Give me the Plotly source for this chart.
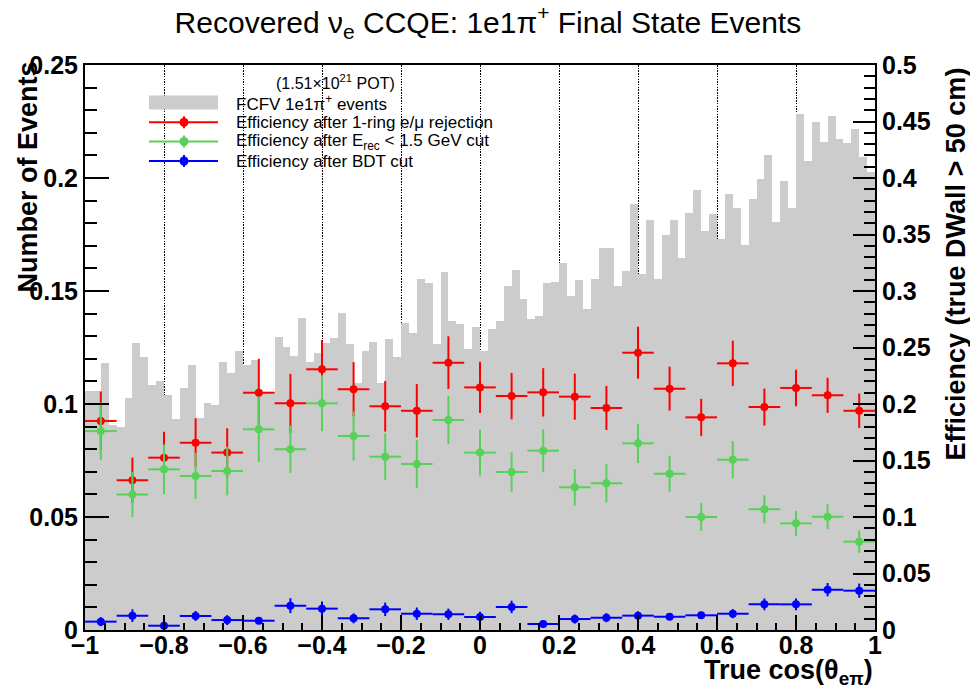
import numpy as np
import plotly.graph_objects as go

# ---------------- data ----------------
hist_edges_lo = -1.0
hist_bin_width = 0.02
hist_counts = [
    0.1058, 0.1058, 0.1180, 0.0905, 0.0900, 0.1028, 0.1269, 0.1209, 0.1084, 0.1102,
    0.1040, 0.0932, 0.1072, 0.1173, 0.0939, 0.1006, 0.0996, 0.1184, 0.1139, 0.1236,
    0.1173, 0.1195, 0.1047, 0.1047, 0.1295, 0.1254, 0.1214, 0.1379, 0.1187, 0.1224,
    0.1270, 0.1294, 0.1404, 0.1265, 0.1091, 0.1236, 0.1273, 0.1091, 0.1286, 0.1210,
    0.1357, 0.1316, 0.1553, 0.1534, 0.1264, 0.1585, 0.1369, 0.1353, 0.1242, 0.1339,
    0.1236, 0.1333, 0.1367, 0.1522, 0.1593, 0.1465, 0.1378, 0.1388, 0.1534, 0.1538,
    0.1622, 0.1476, 0.1549, 0.1420, 0.1553, 0.1692, 0.1692, 0.1522, 0.1590, 0.1885,
    0.1575, 0.1814, 0.1552, 0.1746, 0.1814, 0.1646, 0.1844, 0.1947, 0.1765, 0.1841,
    0.1731, 0.1931, 0.1866, 0.1702, 0.1907, 0.1994, 0.2100, 0.1805, 0.1988, 0.1867,
    0.2283, 0.2077, 0.2249, 0.2161, 0.2276, 0.2171, 0.2153, 0.2217, 0.2092, 0.2028,
]

eff_bin_width = 0.08
eff_ring = [0.185, 0.1325, 0.1525, 0.1658, 0.157, 0.210, 0.2006, 0.2307, 0.213, 0.198,
            0.194, 0.2366, 0.2147, 0.207, 0.2103, 0.2065, 0.1965, 0.2454, 0.2136, 0.1882,
            0.236, 0.1973, 0.2142, 0.2077, 0.194]
err_ring = [0.026, 0.020, 0.023, 0.0215, 0.0215, 0.030, 0.026, 0.026, 0.024, 0.0224,
            0.0236, 0.0233, 0.0226, 0.0206, 0.0214, 0.0204, 0.0195, 0.023, 0.0195, 0.0164,
            0.020, 0.0164, 0.0162, 0.0155, 0.0152]
eff_erec = [0.176, 0.120, 0.1422, 0.1363, 0.1407, 0.1776, 0.160, 0.2006, 0.1717, 0.1534,
            0.1469, 0.1858, 0.157, 0.1398, 0.1587, 0.1263, 0.1298, 0.1652, 0.1383, 0.100,
            0.1507, 0.1068, 0.0944, 0.1003, 0.0782]
err_erec = [0.0254, 0.0199, 0.022, 0.0204, 0.0215, 0.029, 0.021, 0.0248, 0.0218, 0.0206,
            0.0214, 0.0212, 0.0202, 0.0174, 0.019, 0.0162, 0.017, 0.0174, 0.0158, 0.0122,
            0.0164, 0.0124, 0.0109, 0.011, 0.0099]
eff_bdt = [0.0074, 0.0127, 0.0038, 0.0124, 0.0088, 0.0082, 0.0215, 0.0189, 0.0103, 0.0183,
           0.0144, 0.0139, 0.0115, 0.0204, 0.0053, 0.0097, 0.0109, 0.0127, 0.0118, 0.013,
           0.0144, 0.0227, 0.0227, 0.0357, 0.0348]
err_bdt = [0.004, 0.0056, 0.006, 0.0044, 0.0044, 0.003, 0.0066, 0.0063, 0.0044, 0.006,
           0.0055, 0.005, 0.0046, 0.0055, 0.003, 0.004, 0.004, 0.004, 0.003, 0.003,
           0.004, 0.0052, 0.0052, 0.0059, 0.0063]

series_names = ["Efficiency after 1-ring e/μ rejection",
                "Efficiency after E<sub>rec</sub> &lt; 1.5 GeV cut",
                "Efficiency after BDT cut"]
series_colors = ["#ff0000", "#57d157", "#0000ff"]
hist_name = "FCFV 1e1π<sup>+</sup> events"
pot_label = "(1.51×10<sup>21</sup> POT)"

# ---------------- geometry helpers ----------------
W, H = 970, 689
ML, MR, MT, MB = 85, 95, 65, 59
PW, PH = W - ML - MR, H - MT - MB


def px(xp):
    return (xp - ML) / PW


def py(yp):
    return (H - MB - yp) / PH


FONT = "Liberation Sans, Arial, Helvetica, sans-serif"

hist_centers = hist_edges_lo + hist_bin_width * (np.arange(len(hist_counts)) + 0.5)
eff_centers = hist_edges_lo + eff_bin_width * (np.arange(len(eff_ring)) + 0.5)

fig = go.Figure()
fig.add_trace(go.Bar(x=hist_centers, y=hist_counts, width=hist_bin_width,
                     marker=dict(color="#cccccc", line=dict(width=0)),
                     name=hist_name, yaxis="y"))

for vals, errs, col, nm in zip([eff_ring, eff_erec, eff_bdt],
                               [err_ring, err_erec, err_bdt],
                               series_colors, series_names):
    fig.add_trace(go.Scatter(
        x=eff_centers, y=vals, mode="markers", yaxis="y2", name=nm,
        marker=dict(color=col, size=8, symbol="circle", line=dict(width=0)),
        error_x=dict(type="constant", value=eff_bin_width / 2, color=col, thickness=2, width=0),
        error_y=dict(type="data", array=errs, color=col, thickness=2, width=0),
    ))

tickfont = dict(family=FONT, size=25, color="black", weight="bold")

fig.update_layout(
    width=W, height=H,
    margin=dict(l=ML, r=MR, t=MT, b=MB),
    plot_bgcolor="white", paper_bgcolor="white",
    showlegend=False, bargap=0,
    title=dict(text="Recovered ν<sub>e</sub> CCQE: 1e1π<sup>+</sup> Final State Events",
               font=dict(family=FONT, size=30, color="black"),
               x=0.503, xanchor="center", y=1 - 22 / H, yanchor="middle"),
    xaxis=dict(range=[-1, 1], tick0=-1, dtick=0.2, ticks="inside", ticklen=15, tickwidth=1.5,
               tickcolor="black", showline=True, linecolor="black", linewidth=2, mirror=True,
               showgrid=True, gridcolor="black", gridwidth=1, griddash="1.5px,1.2px",
               zeroline=False, tickfont=tickfont, ticklabelstandoff=-8,
               minor=dict(dtick=0.05, ticks="inside", ticklen=7, tickwidth=1.5,
                          tickcolor="black", showgrid=False)),
    yaxis=dict(range=[0, 0.25], dtick=0.05, ticks="inside", ticklen=24, tickwidth=1.5,
               tickcolor="black", showline=True, linecolor="black", linewidth=2,
               showgrid=False, zeroline=False, tickfont=tickfont,
               minor=dict(dtick=0.01, ticks="inside", ticklen=12, tickwidth=1.5,
                          tickcolor="black", showgrid=False)),
    yaxis2=dict(range=[0, 0.5], dtick=0.05, overlaying="y", side="right", ticks="inside",
                ticklen=22, tickwidth=1.5, tickcolor="black", showline=True,
                linecolor="black", linewidth=2, showgrid=False, zeroline=False,
                tickfont=tickfont,
                minor=dict(dtick=0.01, ticks="inside", ticklen=11, tickwidth=1.5,
                           tickcolor="black", showgrid=False)),
)

annots = [
    dict(text="<b>Number of Events</b>", textangle=-90, x=px(27), y=py(60),
         xanchor="center", yanchor="top", font=dict(family=FONT, size=27, color="black")),
    dict(text="<b>Efficiency (true DWall &gt; 50 cm)</b>", textangle=-90, x=px(955), y=py(66),
         xanchor="center", yanchor="top", font=dict(family=FONT, size=27, color="black")),
    dict(text="<b>True cos(θ<sub>eπ</sub>)</b>", x=1.0, y=py(672),
         xanchor="right", yanchor="middle", font=dict(family=FONT, size=27, color="black")),
    dict(text=pot_label, x=px(335), y=py(82), xanchor="center", yanchor="middle",
         font=dict(family=FONT, size=16, color="black")),
]

# legend rows
row_y = [102.5, 122.3, 141.5, 161.0]
text_x = 234
annots.append(dict(text=hist_name, x=px(text_x), y=py(row_y[0]), xanchor="left",
                   yanchor="middle", font=dict(family=FONT, size=17, color="black")))
for ry, nm in zip(row_y[1:], series_names):
    annots.append(dict(text=nm, x=px(text_x), y=py(ry), xanchor="left", yanchor="middle",
                       font=dict(family=FONT, size=17, color="black")))
for a in annots:
    a.update(xref="paper", yref="paper", showarrow=False)
fig.update_layout(annotations=annots)

shapes = [dict(type="rect", xref="paper", yref="paper", x0=px(149), x1=px(218),
               y0=py(row_y[0] - 7), y1=py(row_y[0] + 7), fillcolor="#cccccc",
               line=dict(width=0))]
for ry, col in zip(row_y[1:], series_colors):
    shapes.append(dict(type="line", xref="paper", yref="paper", x0=px(149), x1=px(218),
                       y0=py(ry), y1=py(ry), line=dict(color=col, width=2)))
    shapes.append(dict(type="line", xref="paper", yref="paper", xsizemode="scaled",
                       ysizemode="pixel", yanchor=py(ry), x0=px(184), x1=px(184),
                       y0=-6, y1=6, line=dict(color=col, width=2)))
    shapes.append(dict(type="circle", xref="paper", yref="paper", xsizemode="pixel",
                       ysizemode="pixel", xanchor=px(184), yanchor=py(ry),
                       x0=-4.5, x1=4.5, y0=-4.5, y1=4.5, fillcolor=col,
                       line=dict(width=0)))
fig.update_layout(shapes=shapes)

fig.write_html("out.html")
